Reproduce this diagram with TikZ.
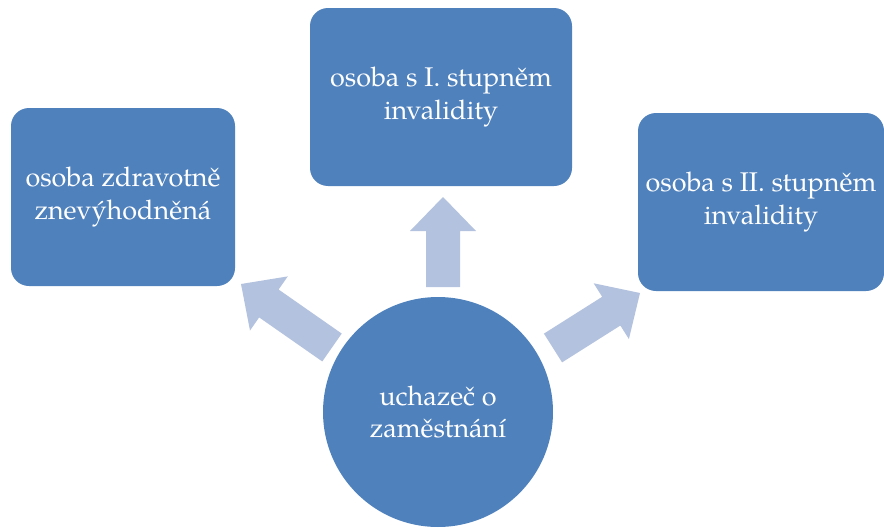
\documentclass[tikz,border=0pt]{standalone}
\usepackage{fontspec}
\setmainfont{TeX Gyre Pagella}
\usetikzlibrary{calc}
\definecolor{boxblue}{HTML}{4F81BD}
\definecolor{arrowblue}{HTML}{B3C2DE}
\tikzset{
  textfont/.style={font=\fontsize{27}{32.5}\selectfont, text=white, align=center},
  card/.style={textfont, fill=boxblue, rounded corners=18pt, inner sep=0pt,
    minimum height=178pt},
  hub/.style={textfont, circle, fill=boxblue, inner sep=0pt, minimum size=230pt},
  arrowfill/.style={fill=arrowblue}
}
% block arrow from tail coordinate #1 to tip coordinate #2
\newcommand\blockarrow[2]{%
  \path ($(#2)!34pt!(#1)$) coordinate (hb);
  \fill[arrowfill] ($(#1)!17pt!90:(#2)$) -- ($(hb)!17pt!-90:(#1)$)
    -- ($(hb)!33pt!-90:(#1)$) -- (#2) -- ($(hb)!33pt!90:(#1)$)
    -- ($(hb)!17pt!90:(#1)$) -- ($(#1)!17pt!-90:(#2)$) -- cycle;
}
\begin{document}
\begin{tikzpicture}[x=1pt,y=-1pt]
  \useasboundingbox (0,0) rectangle (884,530);
  \node[card, minimum width=224pt] (left) at (123,197) {osoba zdravotně\\znevýhodněná};
  \node[card, minimum width=262pt] (top) at (441,97) {osoba s I. stupněm\\invalidity};
  \node[card, minimum width=246pt] (right) at (761,202) {osoba s II. stupněm\\invalidity};
  \node[hub] (hubnode) at (438,412) {uchazeč o\\zaměstnání};
  % arrow ends
  \coordinate (lt) at (332,347.5);
  \coordinate (lh) at (241,284);
  \coordinate (tt) at (443,287);
  \coordinate (th) at (443,197);
  \coordinate (rt) at (553,348);
  \coordinate (rh) at (640,293);
  \blockarrow{lt}{lh}
  \blockarrow{tt}{th}
  \blockarrow{rt}{rh}
\end{tikzpicture}
\end{document}
